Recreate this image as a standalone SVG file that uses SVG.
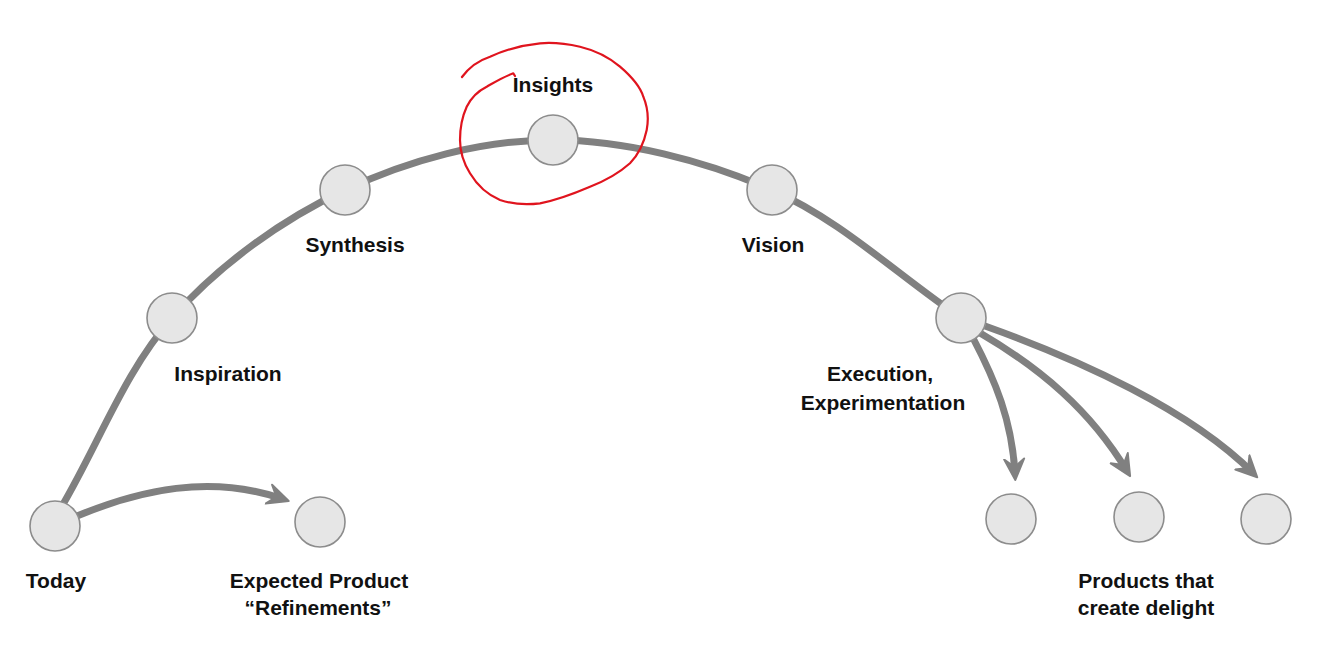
<svg xmlns="http://www.w3.org/2000/svg" width="1318" height="652" viewBox="0 0 1318 652">
<style>
.node{fill:#e6e6e6;stroke:#8c8c8c;stroke-width:1.6}
.edge{fill:none;stroke:#808080;stroke-width:7;stroke-linecap:butt}
.lbl{font-family:"Liberation Sans",Arial,sans-serif;font-weight:bold;font-size:21px;fill:#111;text-anchor:middle}
.ann{fill:none;stroke:#e0141e;stroke-width:2.2;stroke-linecap:round;stroke-linejoin:round}
</style>
<defs>
<marker id="chev" viewBox="0 0 24 24" refX="16" refY="12" markerWidth="24" markerHeight="24" markerUnits="userSpaceOnUse" orient="auto">
<path d="M1,2 L22,12 L1,22 L9,12 Z" fill="#808080" stroke="#808080" stroke-width="2" stroke-linejoin="round"/>
</marker>
</defs>
<rect width="1318" height="652" fill="#ffffff"/>
<g id="connectors">
<path class="edge" d="M62,506 C99,443 125,371 172,318 C219,265 281.5,219.7 345,190 C408.5,160.3 481.8,140 553,140 C624.2,140 704,160.3 772,190 C840,219.7 898,275.3 961,318"/>
<path class="edge" d="M77,516 C140,490 210,474 283,499" marker-end="url(#chev)"/>
<path class="edge" d="M973,338 C995,380 1012,420 1015,474" marker-end="url(#chev)"/>
<path class="edge" d="M980,333 C1040,368 1090,410 1127,471" marker-end="url(#chev)"/>
<path class="edge" d="M985,326 C1080,360 1190,410 1253,473" marker-end="url(#chev)"/>
</g>
<g id="today"><circle class="node" cx="55" cy="526" r="25"/><text class="lbl" x="56" y="588">Today</text></g>
<g id="expected"><circle class="node" cx="320" cy="522" r="25"/><text class="lbl" x="319" y="588">Expected Product</text><text class="lbl" x="318" y="615">“Refinements”</text></g>
<g id="inspiration"><circle class="node" cx="172" cy="318" r="25"/><text class="lbl" x="228" y="381">Inspiration</text></g>
<g id="synthesis"><circle class="node" cx="345" cy="190" r="25"/><text class="lbl" x="355" y="252">Synthesis</text></g>
<g id="insights"><circle class="node" cx="553" cy="140" r="25"/><text class="lbl" x="553" y="92">Insights</text></g>
<g id="vision"><circle class="node" cx="772" cy="190" r="25"/><text class="lbl" x="773" y="252">Vision</text></g>
<g id="execution"><circle class="node" cx="961" cy="318" r="25"/><text class="lbl" x="880" y="381">Execution,</text><text class="lbl" x="883" y="410">Experimentation</text></g>
<g id="product1"><circle class="node" cx="1011" cy="519" r="25"/></g>
<g id="product2"><circle class="node" cx="1139" cy="517" r="25"/></g>
<g id="product3"><circle class="node" cx="1266" cy="519" r="25"/><text class="lbl" x="1146" y="588">Products that</text><text class="lbl" x="1146" y="615">create delight</text></g>
<g id="annotation">
<path class="ann" d="M462,77 C470,66 480,60 490,56.7 C505,50 522,45 540,43.3 C555,42 568,44 580,46.7 C598,51 610,58 620,66.7 C632,77 640,86 643.3,96.7 C648,108 649,118 646.7,130 C644,143 639,154 630,163.3 C618,174 605,181 590,186.7 C573,194 557,200 540,203.3 C526,205 512,204 500,200 C488,195 477,185 470,173.3 C463,162 460,151 460,140 C460,128 462,117 466.7,106.7 C471,98 478,91 486.7,86.7 C495,82 503,77 513.3,73.3 L515,76"/>
</g>
</svg>
